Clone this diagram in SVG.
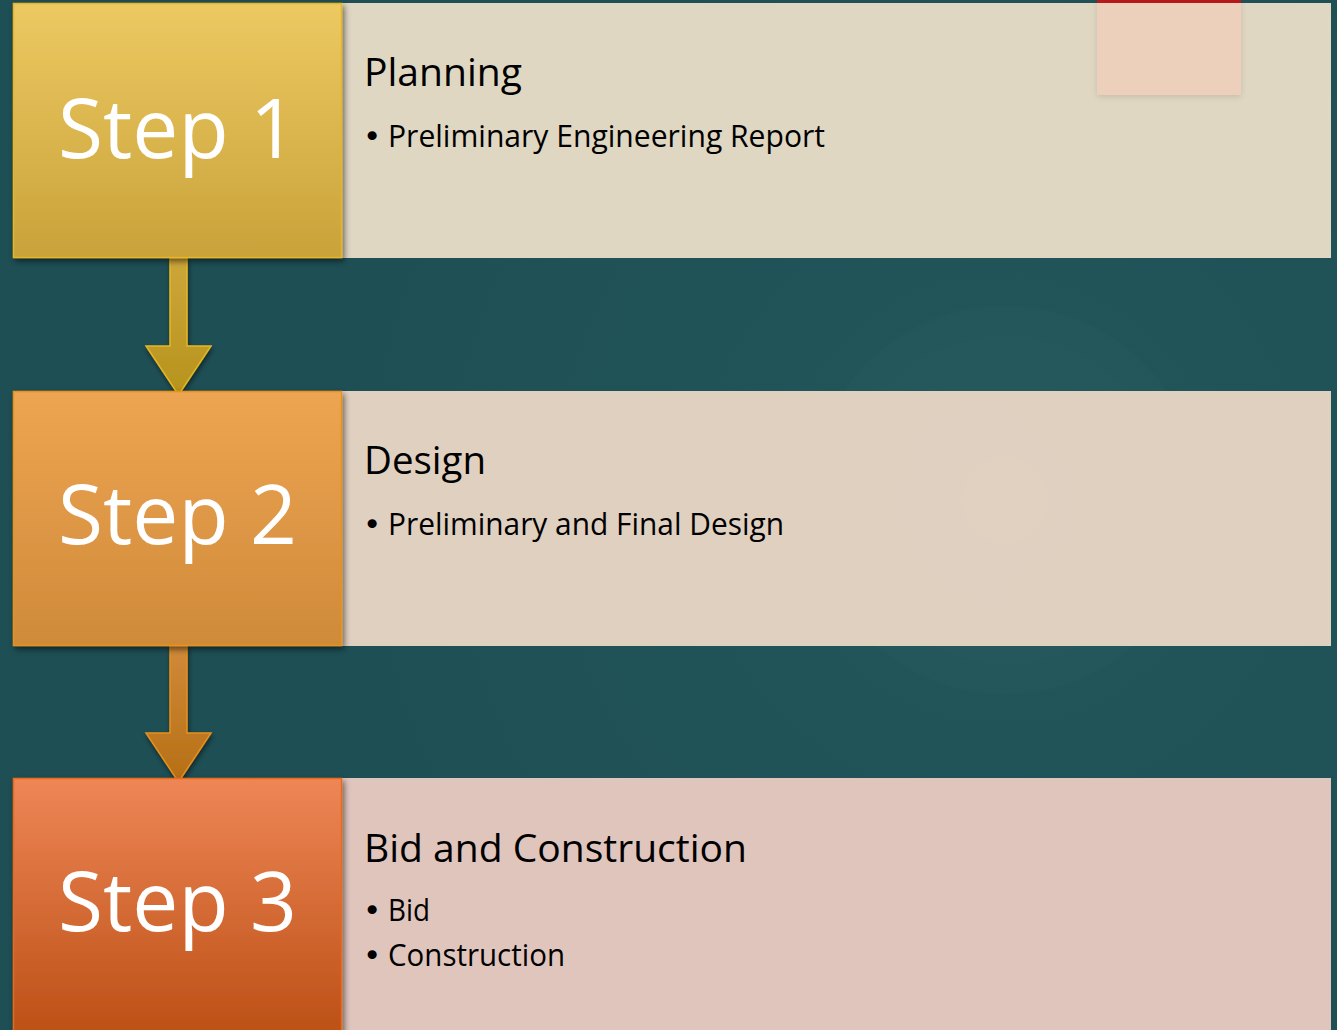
<svg xmlns="http://www.w3.org/2000/svg" width="1337" height="1030" viewBox="0 0 1337 1030">
<defs>
  <radialGradient id="bg" cx="1000" cy="500" r="650" gradientUnits="userSpaceOnUse">
    <stop offset="0" stop-color="#22575c"/>
    <stop offset="1" stop-color="#1e4f55"/>
  </radialGradient>
  <radialGradient id="glow" cx="1005" cy="500" r="200" gradientUnits="userSpaceOnUse">
    <stop offset="0" stop-color="#ffffff" stop-opacity="0.012"/>
    <stop offset="0.95" stop-color="#ffffff" stop-opacity="0.006"/>
    <stop offset="1" stop-color="#ffffff" stop-opacity="0"/>
  </radialGradient>
  <linearGradient id="g1" x1="0" y1="0" x2="0" y2="1">
    <stop offset="0" stop-color="#edc962"/>
    <stop offset="1" stop-color="#c9a23a"/>
  </linearGradient>
  <linearGradient id="g2" x1="0" y1="0" x2="0" y2="1">
    <stop offset="0" stop-color="#eea552"/>
    <stop offset="1" stop-color="#cf8a39"/>
  </linearGradient>
  <linearGradient id="g3" x1="0" y1="0" x2="0" y2="1">
    <stop offset="0" stop-color="#ee8656"/>
    <stop offset="1" stop-color="#bb4f14"/>
  </linearGradient>
  <linearGradient id="a1" x1="0" y1="0" x2="0" y2="1">
    <stop offset="0" stop-color="#cda63b"/>
    <stop offset="1" stop-color="#b6931c"/>
  </linearGradient>
  <linearGradient id="a2" x1="0" y1="0" x2="0" y2="1">
    <stop offset="0" stop-color="#d08a3a"/>
    <stop offset="1" stop-color="#b66f14"/>
  </linearGradient>
  <filter id="sh" x="-10%" y="-10%" width="125%" height="130%">
    <feGaussianBlur in="SourceAlpha" stdDeviation="3"/>
    <feOffset dx="2" dy="3" result="o"/>
    <feComponentTransfer><feFuncA type="linear" slope="0.55"/></feComponentTransfer>
    <feMerge><feMergeNode/><feMergeNode in="SourceGraphic"/></feMerge>
  </filter>
  <filter id="sh2" x="-10%" y="-10%" width="130%" height="130%">
    <feGaussianBlur in="SourceAlpha" stdDeviation="2.5"/>
    <feOffset dx="1" dy="3" result="o"/>
    <feComponentTransfer><feFuncA type="linear" slope="0.5"/></feComponentTransfer>
    <feMerge><feMergeNode/><feMergeNode in="SourceGraphic"/></feMerge>
  </filter>
  <filter id="soft" x="-20%" y="-20%" width="140%" height="140%">
    <feGaussianBlur in="SourceAlpha" stdDeviation="3"/>
    <feOffset dx="0" dy="2"/>
    <feComponentTransfer><feFuncA type="linear" slope="0.12"/></feComponentTransfer>
    <feMerge><feMergeNode/><feMergeNode in="SourceGraphic"/></feMerge>
  </filter>
</defs>
<style>
  .step { font-family: "Open Sans", "Noto Sans", sans-serif; font-size: 83px; fill: #ffffff; }
  .title { font-family: "Open Sans", "Noto Sans", sans-serif; font-size: 39px; fill: #000000; }
  .bullet { font-family: "Open Sans", "Noto Sans", sans-serif; font-size: 31px; fill: #000000; }
  .dot { font-family: "DejaVu Sans", sans-serif; font-size: 31px; }
</style>

<rect x="0" y="0" width="1337" height="1030" fill="url(#bg)"/>
<circle cx="1005" cy="500" r="195" fill="url(#glow)"/>

<!-- Content panels -->
<g id="content1">
  <rect x="342" y="3" width="989" height="255" fill="#dfd7c2"/>
  <g filter="url(#soft)">
    <rect x="1097" y="0" width="144" height="95" fill="#ecd0bb"/>
  </g>
  <rect x="1097" y="0" width="144" height="3" fill="#b5191c"/>
  <text class="title" x="364" y="86" textLength="158" lengthAdjust="spacingAndGlyphs">Planning</text>
  <text class="bullet" x="363" y="147"><tspan class="dot">•</tspan></text>
  <text class="bullet" x="388" y="147" textLength="437" lengthAdjust="spacingAndGlyphs">Preliminary Engineering Report</text>
</g>
<g id="content2">
  <rect x="342" y="391" width="989" height="255" fill="#e0d0c0"/>
  <circle cx="1005" cy="500" r="195" fill="url(#glow)"/>
  <text class="title" x="364" y="474" textLength="122" lengthAdjust="spacingAndGlyphs">Design</text>
  <text class="bullet" x="363" y="535"><tspan class="dot">•</tspan></text>
  <text class="bullet" x="388" y="535" textLength="396" lengthAdjust="spacingAndGlyphs">Preliminary and Final Design</text>
</g>
<g id="content3">
  <rect x="342" y="778" width="989" height="260" fill="#e0c5bd"/>
  <text class="title" x="364" y="862" textLength="383" lengthAdjust="spacingAndGlyphs">Bid and Construction</text>
  <text class="bullet" x="363" y="921"><tspan class="dot">•</tspan></text>
  <text class="bullet" x="388" y="921" textLength="42" lengthAdjust="spacingAndGlyphs">Bid</text>
  <text class="bullet" x="363" y="966"><tspan class="dot">•</tspan></text>
  <text class="bullet" x="388" y="966" textLength="177" lengthAdjust="spacingAndGlyphs">Construction</text>
</g>

<!-- Connectors -->
<g id="connectors">
  <path d="M170,258 L187,258 L187,346 L211,346 L178.5,395 L146,346 L170,346 Z" fill="url(#a1)" stroke="#e7b722" stroke-width="1.5" filter="url(#sh2)"/>
  <path d="M170,645 L187,645 L187,733 L211,733 L178.5,782 L146,733 L170,733 Z" fill="url(#a2)" stroke="#e8901d" stroke-width="1.5" filter="url(#sh2)"/>
</g>

<!-- Step boxes -->
<g id="step1">
  <rect x="13.5" y="3.5" width="328" height="254" fill="url(#g1)" stroke="#e6b52a" stroke-width="1.5" filter="url(#sh)"/>
  <text class="step" x="58" y="158" textLength="239" lengthAdjust="spacingAndGlyphs">Step 1</text>
</g>
<g id="step2">
  <rect x="13.5" y="391.5" width="328" height="254" fill="url(#g2)" stroke="#e8921e" stroke-width="1.5" filter="url(#sh)"/>
  <text class="step" x="58" y="544" textLength="239" lengthAdjust="spacingAndGlyphs">Step 2</text>
</g>
<g id="step3">
  <rect x="13.5" y="778.5" width="328" height="262" fill="url(#g3)" stroke="#ea6a1c" stroke-width="1.5" filter="url(#sh)"/>
  <text class="step" x="58" y="931" textLength="239" lengthAdjust="spacingAndGlyphs">Step 3</text>
</g>
</svg>
